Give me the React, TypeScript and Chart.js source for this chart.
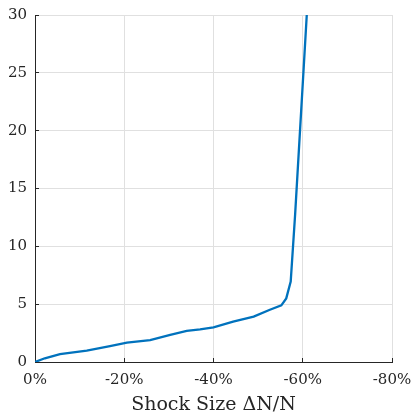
import React, { useEffect, useRef } from "react";
import { Chart, registerables } from "chart.js";

Chart.register(...registerables);

// Shock size (percent decline, magnitude) and resulting values
const shockPct = [0, 2.2, 5.6, 11.6, 16.8, 20.6, 25.8, 30.3, 34, 37, 40, 44.4, 49, 52.5, 55.2, 56.3, 57.3, 58.3, 60.9];
const values = [0, 0.32, 0.69, 0.98, 1.38, 1.67, 1.9, 2.34, 2.7, 2.82, 3.0, 3.49, 3.92, 4.5, 4.9, 5.5, 6.95, 12.8, 30];
const xTicks = [0, -20, -40, -60, -80];
const yTicks = [0, 5, 10, 15, 20, 25, 30];
const xTitle = "Shock Size \u0394N/N";

const FONT = "'DejaVu Serif', serif";
const AXIS = "#262626";
const GRID = "#e0e0e0";

const zeroPad = (s: any) => {
  s.paddingLeft = 0;
  s.paddingRight = 0;
  s.paddingTop = 0;
  s.paddingBottom = 0;
};

export default function App() {
  const ref = useRef<HTMLCanvasElement | null>(null);
  useEffect(() => {
    if (!ref.current) return;
    const chart = new Chart(ref.current, {
      type: "line",
      data: {
        datasets: [
          {
            data: shockPct.map((s, i) => ({ x: -s, y: values[i] })),
            borderColor: "#0072BD",
            borderWidth: 2.3,
            pointRadius: 0,
            fill: false,
            tension: 0,
          },
        ],
      },
      options: {
        animation: false,
        responsive: false,
        maintainAspectRatio: false,
        layout: { padding: { top: 15, right: 23, bottom: 3, left: 0 } },
        plugins: { legend: { display: false }, tooltip: { enabled: false } },
        scales: {
          x: {
            type: "linear",
            min: -80,
            max: 0,
            reverse: true,
            afterBuildTicks: (s: any) => {
              s.ticks = xTicks.map((v) => ({ value: v }));
            },
            afterFit: (s: any) => {
              s.height = 54;
              zeroPad(s);
            },
            ticks: {
              color: AXIS,
              font: { family: FONT, size: 15 },
              padding: 13,
              maxRotation: 0,
              callback: (v: any) => (Number(v) === 0 ? "0%" : v + "%"),
            },
            grid: { color: GRID, tickColor: AXIS, tickLength: -4, lineWidth: 1 },
            border: { color: AXIS, width: 1 },
            title: {
              display: true,
              text: xTitle,
              color: AXIS,
              font: { family: FONT, size: 19 },
              padding: { top: 0, bottom: 0 },
            },
          },
          y: {
            type: "linear",
            min: 0,
            max: 30,
            afterBuildTicks: (s: any) => {
              s.ticks = yTicks.map((v) => ({ value: v }));
            },
            afterFit: (s: any) => {
              s.width = 35;
              zeroPad(s);
            },
            ticks: {
              color: AXIS,
              font: { family: FONT, size: 15 },
              padding: 12,
            },
            grid: { color: GRID, tickColor: AXIS, tickLength: -4, lineWidth: 1 },
            border: { color: AXIS, width: 1 },
          },
        },
      },
    });
    return () => chart.destroy();
  }, []);
  return (
    <div style={{ position: "fixed", left: 0, top: 0, width: 415, height: 419, background: "#fff" }}>
      <canvas ref={ref} width={415} height={419} style={{ width: 415, height: 419 }} />
    </div>
  );
}
